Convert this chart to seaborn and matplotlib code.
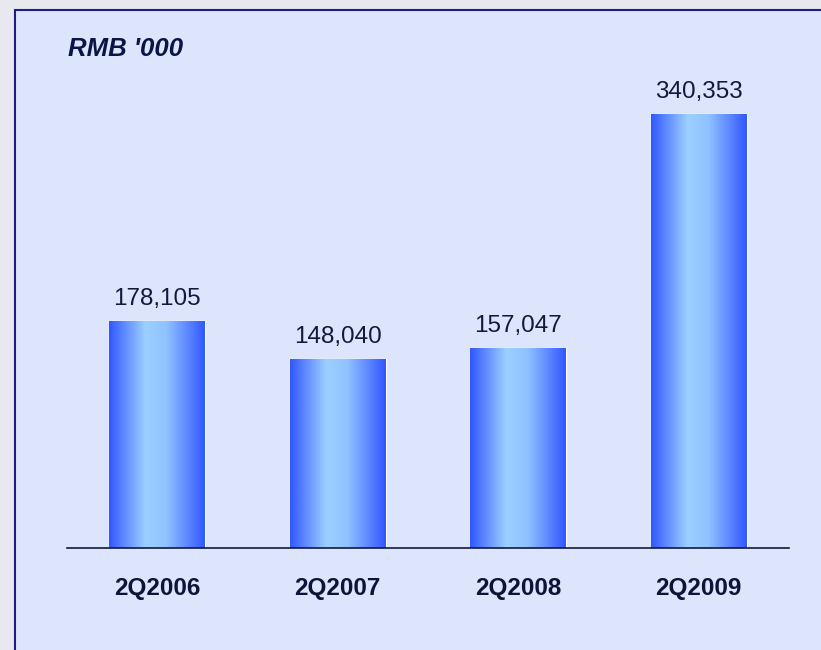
import matplotlib
matplotlib.use('Agg')
import matplotlib.pyplot as plt
import seaborn as sns
import numpy as np
from matplotlib.colors import LinearSegmentedColormap
from matplotlib.patches import Rectangle

# data
periods = ['2Q2006', '2Q2007', '2Q2008', '2Q2009']
values = [178105, 148040, 157047, 340353]
unit_label = "RMB '000"

sns.set_style('white')
plt.rcParams['font.family'] = ['Liberation Sans', 'DejaVu Sans']

W, H = 821, 650
fig = plt.figure(figsize=(W / 100, H / 100), dpi=100)
fig.patch.set_facecolor('#e7e9ee')

# light blue panel with navy border (runs off right/bottom edges)
panel = Rectangle((14.5 / W, -0.05), 1.0, (H - 9.5) / H + 0.05,
                  transform=fig.transFigure, facecolor='#dde5fd',
                  edgecolor='#1c1c8c', linewidth=1.5, zorder=-5)
fig.patches.append(panel)

ytop = 380000
base_px = 548
top_px = base_px - 434 * ytop / 340353
ax = fig.add_axes([67 / W, (H - base_px) / H, 722 / W, (base_px - top_px) / H])
ax.set_facecolor('none')

sns.barplot(x=periods, y=values, ax=ax, width=0.53, color='#4a6dff', saturation=1)

# horizontal gradient fill on each bar
cmap = LinearSegmentedColormap.from_list(
    'bar', [(0, '#3157ff'), (0.38, '#9cd0ff'), (0.6, '#90c2ff'), (1, '#3157ff')])
grad = np.linspace(0, 1, 256).reshape(1, -1)
for bar in ax.patches:
    x0, w, h = bar.get_x(), bar.get_width(), bar.get_height()
    im = ax.imshow(grad, cmap=cmap, aspect='auto', extent=(x0, x0 + w, 0, h),
                   zorder=bar.get_zorder() + 0.1, interpolation='bicubic')
    im.set_clip_path(bar)
    ax.text(x0 + w / 2, h + 8500, f'{int(h):,}', ha='center', va='bottom',
            fontsize=17.5, color='#14183c')
ax.set_xlim(-0.5, 3.5)
ax.set_ylim(0, ytop)

for s in ['top', 'right', 'left']:
    ax.spines[s].set_visible(False)
ax.spines['bottom'].set_color('#14183c')
ax.spines['bottom'].set_linewidth(1.2)
ax.set_yticks([])
ax.tick_params(axis='x', length=0, pad=21)
for lbl in ax.get_xticklabels():
    lbl.set_fontsize(17.5)
    lbl.set_fontweight('bold')
    lbl.set_color('#0e1438')

fig.text(68 / W, 1 - 49 / H, unit_label, ha='left', va='center', fontsize=18.5,
         fontweight='bold', fontstyle='italic', color='#0a1446')

fig.savefig('out.png', dpi=100)
